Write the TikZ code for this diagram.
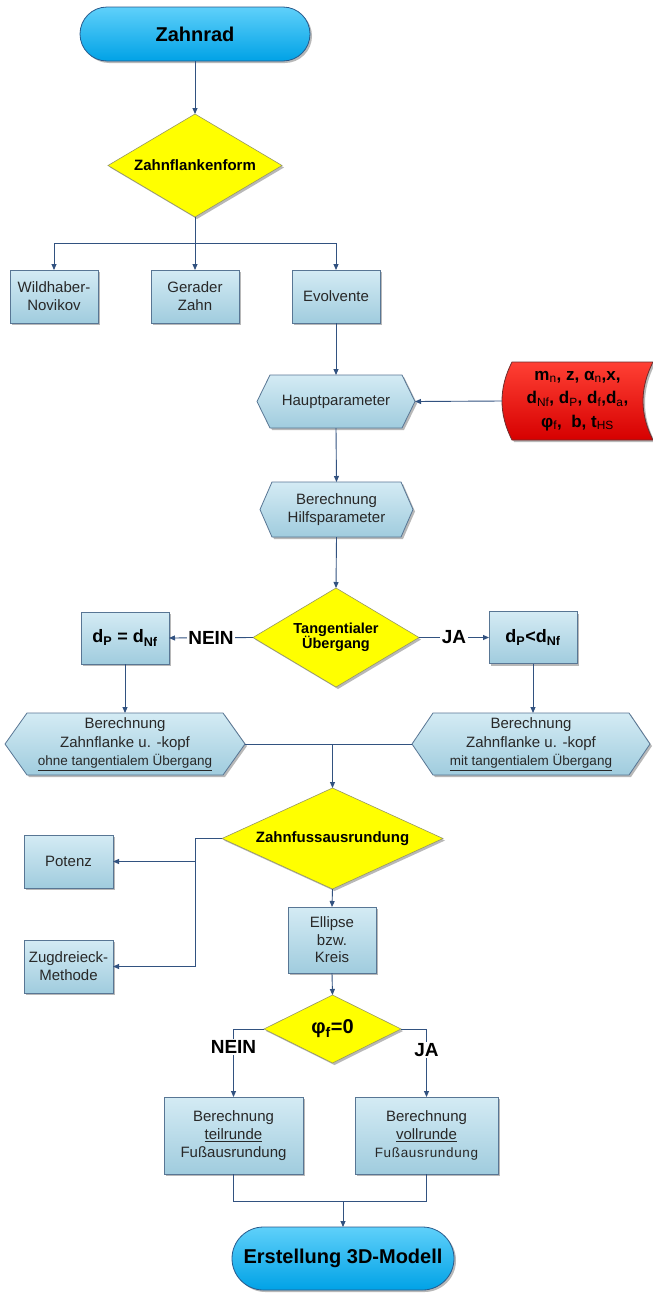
\documentclass[tikz,border=0pt]{standalone}
\usepackage{fontspec}
\setmainfont{Liberation Sans}
\usetikzlibrary{shapes.geometric,shapes.misc,arrows.meta,shadows}

\makeatletter
\newdimen\hxL \newdimen\hxR \newdimen\hxT \newdimen\hxB \newdimen\hxM
\newdimen\hxI \newdimen\hxLi \newdimen\hxRi \newdimen\hxLc
\newdimen\hxC \newdimen\hxD \newdimen\hxE
\pgfkeys{/pgf/hex indent/.initial=12pt}
\pgfkeys{/pgf/sd bulge/.initial=10pt}
\pgfdeclareshape{hexbox}{%
  \inheritsavedanchors[from=rectangle]%
  \inheritanchorborder[from=rectangle]%
  \inheritanchor[from=rectangle]{center}%
  \inheritanchor[from=rectangle]{mid}%
  \inheritanchor[from=rectangle]{base}%
  \inheritanchor[from=rectangle]{north}%
  \inheritanchor[from=rectangle]{south}%
  \inheritanchor[from=rectangle]{east}%
  \inheritanchor[from=rectangle]{west}%
  \inheritanchor[from=rectangle]{north east}%
  \inheritanchor[from=rectangle]{north west}%
  \inheritanchor[from=rectangle]{south east}%
  \inheritanchor[from=rectangle]{south west}%
  \backgroundpath{%
    \southwest \hxL=\pgf@x \hxB=\pgf@y
    \northeast \hxR=\pgf@x \hxT=\pgf@y
    \pgfmathsetlength\hxI{\pgfkeysvalueof{/pgf/hex indent}}%
    \hxM=\hxB \advance\hxM by \hxT \divide\hxM by 2
    \hxLi=\hxL \advance\hxLi by \hxI
    \hxRi=\hxR \advance\hxRi by -\hxI
    \pgfpathmoveto{\pgfqpoint{\hxL}{\hxM}}%
    \pgfpathlineto{\pgfqpoint{\hxLi}{\hxT}}%
    \pgfpathlineto{\pgfqpoint{\hxRi}{\hxT}}%
    \pgfpathlineto{\pgfqpoint{\hxR}{\hxM}}%
    \pgfpathlineto{\pgfqpoint{\hxRi}{\hxB}}%
    \pgfpathlineto{\pgfqpoint{\hxLi}{\hxB}}%
    \pgfpathclose
  }%
}
\pgfdeclareshape{storeddata}{%
  \inheritsavedanchors[from=rectangle]%
  \inheritanchorborder[from=rectangle]%
  \inheritanchor[from=rectangle]{center}%
  \inheritanchor[from=rectangle]{mid}%
  \inheritanchor[from=rectangle]{base}%
  \inheritanchor[from=rectangle]{north}%
  \inheritanchor[from=rectangle]{south}%
  \inheritanchor[from=rectangle]{east}%
  \inheritanchor[from=rectangle]{west}%
  \backgroundpath{%
    \southwest \hxL=\pgf@x \hxB=\pgf@y
    \northeast \hxR=\pgf@x \hxT=\pgf@y
    \pgfmathsetlength\hxI{\pgfkeysvalueof{/pgf/sd bulge}}%
    \hxLi=\hxL \advance\hxLi by \hxI
    \hxLc=\hxL \advance\hxLc by -0.3333\hxI
    \hxRi=\hxR \advance\hxRi by -1.3333\hxI
    \hxC=\hxT \advance\hxC by -\hxB \divide\hxC by 3
    \hxD=\hxT \advance\hxD by -\hxC
    \hxE=\hxB \advance\hxE by \hxC
    \pgfpathmoveto{\pgfqpoint{\hxLi}{\hxT}}%
    \pgfpathlineto{\pgfqpoint{\hxR}{\hxT}}%
    \pgfpathcurveto{\pgfqpoint{\hxRi}{\hxD}}{\pgfqpoint{\hxRi}{\hxE}}{\pgfqpoint{\hxR}{\hxB}}%
    \pgfpathlineto{\pgfqpoint{\hxLi}{\hxB}}%
    \pgfpathcurveto{\pgfqpoint{\hxLc}{\hxE}}{\pgfqpoint{\hxLc}{\hxD}}{\pgfqpoint{\hxLi}{\hxT}}%
    \pgfpathclose
  }%
}
\makeatother

\newcommand{\fsz}[2]{\fontsize{#1}{#2}\selectfont}
\newcommand{\mysub}[1]{\textsubscript{\mdseries #1}}

\definecolor{lineblue}{RGB}{50,82,128}
\definecolor{boxborder}{RGB}{88,118,148}
\definecolor{boxtop}{RGB}{212,235,244}
\definecolor{boxbot}{RGB}{160,204,222}
\definecolor{termtop}{RGB}{95,208,250}
\definecolor{termbot}{RGB}{0,162,230}
\definecolor{termborder}{RGB}{40,90,140}
\definecolor{decfill}{RGB}{255,255,0}
\definecolor{decborder}{RGB}{150,150,100}
\definecolor{redtop}{RGB}{255,64,52}
\definecolor{redbot}{RGB}{214,0,0}
\definecolor{redborder}{RGB}{110,45,45}
\definecolor{txt}{RGB}{40,40,40}

\tikzset{
  conn/.style={draw=lineblue, line width=0.9pt},
  arr/.style={conn, -{Triangle[length=6pt,width=5pt]}},
  shad/.style={drop shadow={shadow xshift=2pt, shadow yshift=-2pt, fill=black, opacity=0.28}},
  term/.style={rounded rectangle, draw=termborder, line width=0.8pt, top color=termtop,
    bottom color=termbot, shad, font=\fsz{20}{24}\bfseries, text=black, inner sep=0pt, outer sep=0pt},
  dec/.style={diamond, draw=decborder, line width=0.6pt, fill=decfill, shad, inner sep=0pt,
    outer sep=0pt, align=center, text=black},
  box/.style={rectangle, draw=boxborder, line width=0.8pt, top color=boxtop, bottom color=boxbot,
    shad, align=center, text=txt, font=\fsz{15}{18}, inner sep=0pt, outer sep=0pt},
  hex/.style={box, shape=hexbox, font=\fsz{15}{18.5}},
  sdat/.style={shape=storeddata, draw=redborder, line width=0.8pt, top color=redtop, bottom color=redbot,
    shad, align=center, text=black, font=\fsz{17}{23.5}\bfseries, inner sep=0pt, outer sep=0pt},
  lbl/.style={font=\fsz{19}{22}\bfseries, fill=white, inner sep=1.5pt, text=black},
}

\begin{document}
\begin{tikzpicture}[x=1pt,y=-1pt]
\fill[white] (0,0) rectangle (653,1293);
\useasboundingbox (0,0) rectangle (653,1293);

\node[term, minimum width=230pt, minimum height=54pt] (zr) at (195,34) {Zahnrad};
\node[dec, aspect=1.69, minimum width=174pt, minimum height=103pt, font=\fsz{15}{18}\bfseries] (zff) at (195,165.5) {Zahnflankenform};
\node[box, minimum width=88pt, minimum height=53pt] (wild) at (54,296.5) {Wildhaber-\\Novikov};
\node[box, minimum width=88pt, minimum height=53pt] (geb) at (195,296.5) {Gerader\\Zahn};
\node[box, minimum width=88pt, minimum height=53pt] (evo) at (336,296.5) {Evolvente};
\node[hex, hex indent=13pt, minimum width=158pt, minimum height=53pt] (haupt) at (336,401.5) {Hauptparameter};
\node[sdat, sd bulge=10pt, minimum width=151pt, minimum height=78pt] (inp) at (577.5,401)
  {m\mysub{n}, z, α\mysub{n},x,\\d\mysub{Nf}, d\mysub{P}, d\mysub{f},d\mysub{a},\\φ\mysub{f},\ \ b, t\mysub{HS}};
\node[hex, hex indent=12pt, minimum width=153pt, minimum height=55pt, font=\fsz{15}{17.7}] (hilf) at (336.5,509.5) {Berechnung\\Hilfsparameter};
\node[dec, aspect=1.68, minimum width=166pt, minimum height=99pt, font=\fsz{14.5}{15.5}\bfseries] (tang) at (336,637.5) {Tangentialer\\Übergang};
\node[box, minimum width=88pt, minimum height=52pt, font=\fsz{18}{20}\bfseries, text=black] (dpl) at (125,638) {d\textsubscript{P} = d\textsubscript{Nf}};
\node[box, minimum width=88pt, minimum height=52pt, font=\fsz{18}{20}\bfseries, text=black] (dpr) at (533,637.5) {d\textsubscript{P}<d\textsubscript{Nf}};
\node[hex, hex indent=22pt, minimum width=240pt, minimum height=62pt] (hl) at (125,744)
  {Berechnung\\Zahnflanke u. -kopf\\{\fsz{13.5}{16}\underline{ohne tangentialem Übergang}}};
\node[hex, hex indent=21pt, minimum width=238pt, minimum height=62pt] (hr) at (531,744)
  {Berechnung\\Zahnflanke u. -kopf\\{\fsz{13.5}{16}\underline{mit tangentialem Übergang}}};
\node[dec, aspect=2.19, minimum width=221pt, minimum height=101pt, font=\fsz{15}{18}\bfseries] (zfa) at (332.5,838.5) {Zahnfussausrundung};
\node[box, minimum width=89pt, minimum height=53pt] (pot) at (68.5,861.5) {Potenz};
\node[box, minimum width=89pt, minimum height=53pt] (zug) at (68.5,966.5) {Zugdreieck-\\Methode};
\node[box, minimum width=88pt, minimum height=66pt, font=\fsz{15}{17.5}] (ell) at (332,940) {Ellipse\\bzw.\\Kreis};
\node[dec, aspect=2.0, minimum width=137pt, minimum height=68pt, font=\fsz{20}{22}\bfseries] (phi) at (332.5,1029) {φ\textsubscript{f}=0};
\node[box, minimum width=139pt, minimum height=77pt] (tl) at (233.5,1135.5)
  {Berechnung\\\underline{teilrunde}\\Fußausrundung};
\node[box, minimum width=143pt, minimum height=77pt] (tr) at (426.5,1135.5)
  {Berechnung\\\underline{vollrunde}\\{\fsz{13.5}{18}\addfontfeature{LetterSpace=5}Fußausrundung}};
\node[term, minimum width=222pt, minimum height=63pt] (fin) at (343,1258.5) {Erstellung 3D-Modell};

\coordinate (sp) at (195,243);
\coordinate (jx) at (195,0);
\coordinate (mg) at (343,1201);

\draw[arr] (zr.south) -- (zff.north);
\draw[arr] (zff.south) -- (geb.north);
\draw[arr] (sp) -| (wild.north);
\draw[arr] (sp) -| (evo.north);
\draw[arr] (evo.south) -- (haupt.north);
\draw[arr] (inp.west) -- (haupt.east);
\draw[arr] (haupt.south) -- (hilf.north);
\draw[arr] (hilf.south) -- (tang.north);
\draw[arr] (tang.west) -- node[lbl]{NEIN} (dpl.east);
\draw[arr] (tang.east) -- node[lbl]{JA} (dpr.west);
\draw[arr] (dpl.south) -- (hl.north);
\draw[arr] (dpr.south) -- (dpr.south |- hr.north);
\draw[conn] (hl.east) -- (hr.west);
\draw[arr] (hl.east -| zfa.north) -- (zfa.north);
\draw[arr] (zfa.west) -- (zfa.west -| jx) |- (zug.east);
\draw[arr] (jx |- pot.east) -- (pot.east);
\draw[arr] (zfa.south) -- (ell.north);
\draw[arr] (ell.south) -- (phi.north);
\draw[arr] (phi.west) -| node[lbl, pos=0.63]{NEIN} (tl.north);
\draw[arr] (phi.east) -| node[lbl, pos=0.655]{JA} (tr.north);
\draw[conn] (tl.south) -- (tl.south |- mg) -- (tr.south |- mg) -- (tr.south);
\draw[arr] (mg) -- (fin.north);
\end{tikzpicture}
\end{document}
